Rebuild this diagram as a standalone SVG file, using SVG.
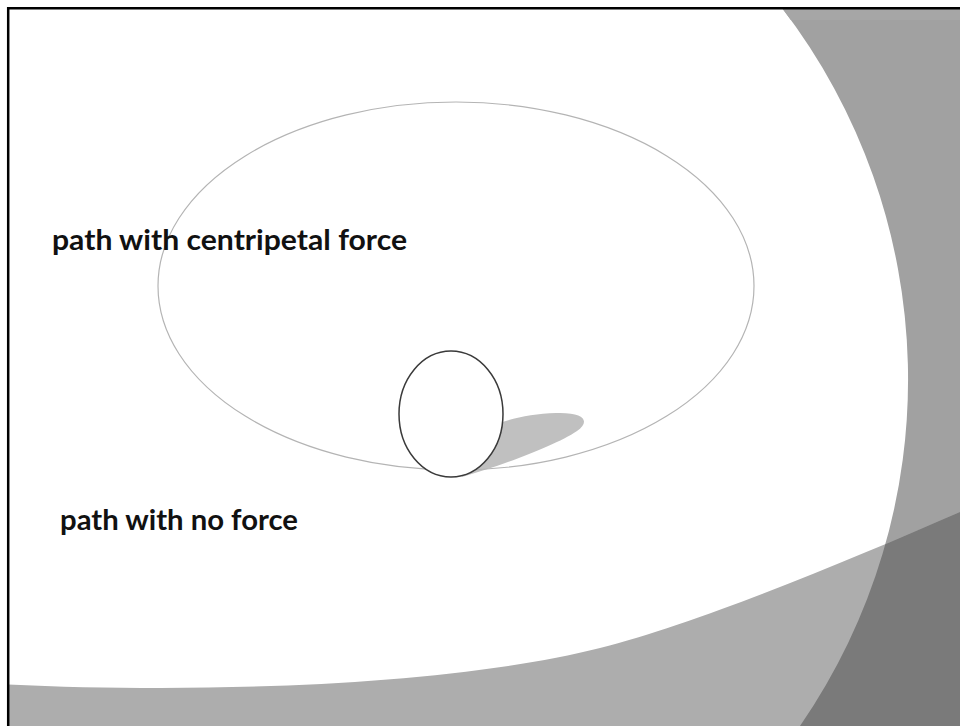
<svg xmlns="http://www.w3.org/2000/svg" width="960" height="726" viewBox="0 0 960 726">
  <defs>
    <clipPath id="slide">
      <rect x="8" y="8" width="960" height="730"/>
    </clipPath>
    <clipPath id="bottomClip">
      <path d="M 0 684 C 200 694, 450 686, 600 648 C 700 622.7, 850 560, 960 512 L 960 726 L 0 726 Z"/>
    </clipPath>
    <clipPath id="rightClip">
      <path d="M 782 8 A 610 610 0 0 1 800 726 L 960 726 L 960 8 Z"/>
    </clipPath>
    <style>
      .label { font-family: "Lato", "Open Sans", "Liberation Sans", sans-serif; font-weight: 700; font-size: 28px; fill: #111; }
      .orbit { fill: none; stroke: #b4b4b4; stroke-width: 1.2; }
      .egg { fill: #ffffff; stroke: #3a3a3a; stroke-width: 1.5; }
    </style>
  </defs>
  <rect x="0" y="0" width="960" height="726" fill="#ffffff"/>
  <g id="background" clip-path="url(#slide)">
    <path id="right-band" d="M 782 8 A 610 610 0 0 1 800 726 L 960 726 L 960 8 Z" fill="#a1a1a1"/>
    <rect x="700" y="8" width="260" height="12" fill="#a6a6a6" clip-path="url(#rightClip)"/>
    <path id="bottom-band" d="M 0 684 C 200 694, 450 686, 600 648 C 700 622.7, 850 560, 960 512 L 960 726 L 0 726 Z" fill="#adadad"/>
    <path id="overlap" d="M 782 8 A 610 610 0 0 1 800 726 L 960 726 L 960 8 Z" fill="#7a7a7a" clip-path="url(#bottomClip)"/>
  </g>
  <g id="shadow">
    <path d="M 462 477 C 500 466, 555 446, 577 431 C 590 422, 586 412, 556 413 C 525 414, 500 421, 478 432 Z" fill="#c0c0c0"/>
  </g>
  <g id="orbit-path">
    <ellipse class="orbit" cx="456" cy="286" rx="298" ry="184"/>
  </g>
  <g id="egg">
    <ellipse class="egg" cx="451" cy="414" rx="52" ry="63"/>
  </g>
  <g id="label-centripetal">
    <text class="label" x="52" y="249.5" textLength="355" lengthAdjust="spacingAndGlyphs">path with centripetal force</text>
  </g>
  <g id="label-no-force">
    <text class="label" x="60" y="529.5" textLength="238" lengthAdjust="spacingAndGlyphs">path with no force</text>
  </g>
  <g id="connectors"/>
  <g id="frame" fill="none" stroke="#000000" stroke-width="2.5">
    <line x1="8" y1="8.2" x2="960" y2="8.2"/>
    <line x1="8.2" y1="7" x2="8.2" y2="726"/>
  </g>
</svg>
